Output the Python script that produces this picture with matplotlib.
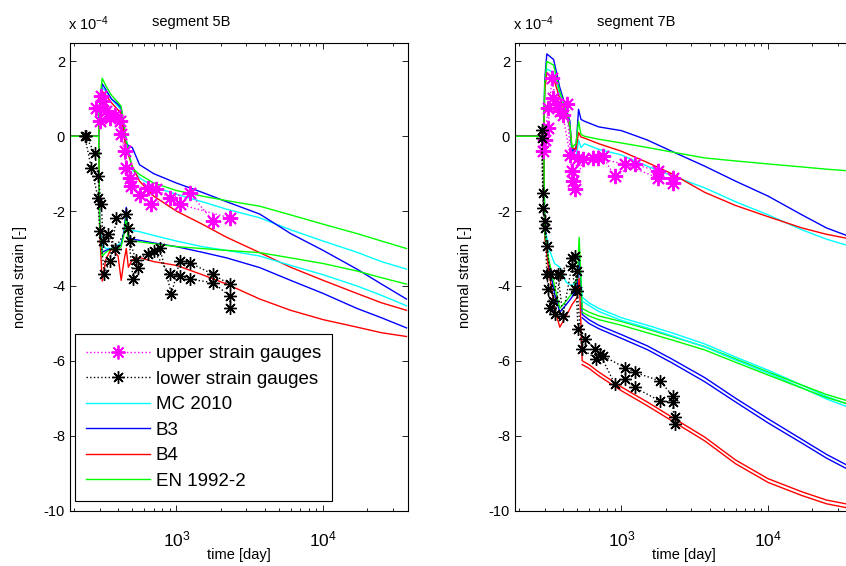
import numpy as np
import matplotlib.pyplot as plt
from matplotlib.lines import Line2D

plt.rcParams['font.family'] = ['Liberation Sans', 'DejaVu Sans']
plt.rcParams['font.size'] = 10.5
plt.rcParams['mathtext.fontset'] = 'custom'
plt.rcParams['mathtext.rm'] = 'Liberation Sans'
plt.rcParams['mathtext.it'] = 'Liberation Sans:italic'

# ---- segment 5B: model curves (strain in 1e-4) ----
L_T = [190, 295, 300, 312, 330, 360, 400, 420, 440, 455, 470, 500, 560, 700,
       1000, 1500, 2200, 3700, 6000, 10000, 17000, 25000, 37000]
L_MC_UP = [0, 0, 0.9, 1.3, 1.2, 1.0, 0.8, 0.7, 0.2, -0.1, -0.3, -0.9, -1.11, -1.35,
           -1.55, -1.75, -1.95, -2.18, -2.5, -2.8, -3.1, -3.35, -3.55]
L_B3_UP = [0, 0, 0.9, 1.4, 1.25, 1.0, 0.85, 0.75, 0.2, -0.18, -0.25, -0.3, -0.76, -1.0,
           -1.25, -1.5, -1.75, -2.08, -2.6, -3.05, -3.55, -3.95, -4.35]
L_B4_UP = [0, 0, 0.8, 1.2, 1.1, 0.9, 0.7, 0.6, 0.0, -0.4, -0.5, -0.8, -1.2, -1.6,
           -2.0, -2.35, -2.7, -3.11, -3.5, -3.85, -4.2, -4.45, -4.65]
L_EN_UP = [0, 0, 1.0, 1.55, 1.35, 1.1, 0.9, 0.8, 0.3, -0.1, -0.4, -0.85, -1.02, -1.25,
           -1.45, -1.6, -1.72, -1.87, -2.1, -2.35, -2.6, -2.8, -3.0]
L_MC_LO = [0, 0, -2.4, -2.9, -3.0, -3.0, -2.9, -2.85, -2.6, -2.3, -2.5, -2.52, -2.55, -2.65,
           -2.8, -2.95, -3.05, -3.2, -3.45, -3.7, -4.0, -4.25, -4.53]
L_B3_LO = [0, 0, -2.5, -3.1, -3.05, -3.0, -2.95, -2.9, -2.5, -1.9, -2.7, -2.75, -2.78, -2.85,
           -2.95, -3.1, -3.25, -3.51, -3.85, -4.2, -4.6, -4.85, -5.12]
L_B4_LO = [0, 0, -2.6, -3.87, -3.3, -3.0, -3.2, -3.85, -3.3, -3.0, -3.5, -3.3, -3.24, -3.35,
           -3.45, -3.7, -3.95, -4.35, -4.65, -4.9, -5.1, -5.25, -5.35]
L_EN_LO = [0, 0, -2.5, -3.2, -3.1, -3.0, -3.0, -2.95, -2.6, -2.1, -2.8, -2.8, -2.82, -2.87,
           -2.95, -3.0, -3.05, -3.11, -3.25, -3.4, -3.6, -3.78, -3.95]

# ---- segment 5B: measurements ----
L_UP1_T = [285, 316, 351, 410, 444, 480, 562, 675, 900, 1233, 1777]
L_UP1_V = [0.75, 0.93, 0.49, 0.4, -0.4, -1.11, -1.56, -1.82, -1.64, -1.51, -2.27]
L_UP2_T = [300, 308, 333, 379, 422, 456, 493, 640, 731, 1053, 2310]
L_UP2_V = [0.4, 1.07, 0.67, 0.58, 0.05, -0.85, -1.33, -1.38, -1.42, -1.82, -2.18]
L_LO1_T = [237, 263, 292, 300, 323, 351, 390, 456, 506, 547, 640, 769, 925, 1053, 1233, 1777, 2310]
L_LO1_V = [0, -0.85, -1.64, -2.53, -3.69, -3.33, -2.18, -2.09, -3.82, -3.51, -3.15, -2.98,
           -4.22, -3.33, -3.38, -3.69, -3.96]
L_LO2_T = [240, 277, 292, 308, 316, 340, 380, 468, 480, 530, 700, 900, 1053, 1233, 1777, 2300, 2330]
L_LO2_V = [0, -0.44, -1.07, -1.82, -2.8, -2.6, -3.0, -2.44, -2.8, -3.3, -3.07, -3.69, -3.73,
           -3.82, -3.91, -4.27, -4.58]

# ---- segment 7B: model curves ----
R_T_UP = [190, 295, 300, 310, 345, 380, 420, 445, 460, 490, 510, 530, 560, 700,
          1000, 1500, 2200, 3700, 6000, 10000, 17000, 25000, 37000]
R_MC_UP = [0, 0, 1.3, 1.8, 1.7, 1.1, 0.6, 0.2, -0.5, -0.6, -0.1, -0.3, -0.2, -0.35,
           -0.5, -0.8, -1.05, -1.38, -1.75, -2.1, -2.5, -2.75, -2.95]
R_B3_UP = [0, 0, 1.5, 2.2, 2.05, 1.3, 0.75, 0.4, -0.4, -0.3, 0.72, 0.45, 0.4, 0.25,
           0.15, -0.1, -0.4, -0.8, -1.2, -1.6, -2.1, -2.45, -2.7]
R_B4_UP = [0, 0, 1.2, 1.7, 1.55, 1.0, 0.6, 0.25, -0.3, -0.35, 0.1, -0.02, -0.05, -0.2,
           -0.4, -0.7, -1.0, -1.5, -1.85, -2.15, -2.45, -2.62, -2.75]
R_EN_UP = [0, 0, 1.4, 2.0, 1.9, 1.2, 0.7, 0.3, -0.3, -0.2, 0.4, 0.05, 0.0, -0.08,
           -0.18, -0.3, -0.42, -0.58, -0.66, -0.74, -0.82, -0.88, -0.93]

R_T_LO = [190, 295, 300, 320, 350, 380, 420, 460, 500, 515, 525, 540, 600, 700,
          1000, 1500, 2200, 3700, 6000, 10000, 17000, 25000, 37000]
R_MC_LO = [0, 0, -2.4, -3.0, -3.4, -3.5, -3.9, -4.0, -3.8, -3.3, -3.6, -4.3, -4.45, -4.6,
           -4.85, -5.05, -5.25, -5.55, -5.9, -6.25, -6.65, -6.95, -7.2]
R_B3_LO = [0, 0, -2.6, -3.4, -4.2, -4.7, -4.5, -4.3, -4.0, -3.2, -3.8, -4.76, -4.9, -5.05,
           -5.3, -5.6, -5.95, -6.45, -7.0, -7.55, -8.1, -8.5, -8.85]
R_B4_LO = [0, 0, -2.7, -3.6, -4.6, -5.1, -4.8, -4.5, -4.3, -3.8, -4.6, -6.0, -6.1, -6.3,
           -6.7, -7.1, -7.5, -8.04, -8.65, -9.15, -9.5, -9.72, -9.85]
R_EN_LO = [0, 0, -2.6, -3.3, -4.0, -4.6, -4.4, -4.2, -3.8, -2.7, -3.5, -4.6, -4.7, -4.8,
           -4.95, -5.15, -5.35, -5.62, -5.95, -6.3, -6.65, -6.9, -7.1]

# second gauge of the lower pairs (segment 7B)
R_T_PAIR = [540, 600, 700, 1000, 1500, 2200, 3700, 6000, 10000, 17000, 25000, 37000]
R_MC_LO2 = [-4.4, -4.52, -4.68, -4.92, -5.12, -5.33, -5.63, -5.98, -6.33, -6.72, -7.02, -7.27]
R_B3_LO2 = [-4.85, -5.0, -5.14, -5.4, -5.7, -6.05, -6.56, -7.1, -7.66, -8.2, -8.6, -8.95]
R_B4_LO2 = [-6.1, -6.2, -6.4, -6.8, -7.2, -7.6, -8.14, -8.75, -9.25, -9.6, -9.82, -9.95]
R_EN_LO2 = [-4.7, -4.8, -4.9, -5.05, -5.25, -5.44, -5.71, -6.04, -6.38, -6.73, -6.98, -7.18]

# ---- segment 7B: measurements ----
R_UP1_T = [292, 316, 335, 362, 399, 445, 467, 505, 639, 746, 898, 1231, 1763, 2230]
R_UP1_V = [-0.4, 0.22, 1.55, 0.85, 0.58, -0.49, -1.2, -0.58, -0.58, -0.53, -1.07, -0.75, -0.93, -1.24]
R_UP2_T = [300, 316, 341, 381, 423, 458, 482, 546, 691, 1053, 1763, 2230]
R_UP2_V = [-0.1, 0.75, 1.02, 0.67, 0.85, -0.93, -1.41, -0.62, -0.58, -0.75, -1.11, -1.11]
R_LO1_T = [286, 292, 302, 310, 326, 352, 381, 458, 482, 505, 564, 659, 746, 1053, 1231, 1820, 2230, 2300]
R_LO1_V = [0.18, -1.51, -2.27, -2.93, -3.69, -4.75, -3.69, -3.24, -3.2, -5.15, -5.41, -5.68,
           -5.87, -6.18, -6.31, -6.53, -6.93, -7.51]
R_LO2_T = [286, 292, 302, 310, 316, 326, 341, 369, 399, 458, 482, 495, 500, 535, 676, 713,
           898, 1053, 1231, 1820, 2230, 2300]
R_LO2_V = [-0.04, -1.91, -2.44, -3.69, -4.08, -4.58, -4.4, -3.69, -4.8, -3.47, -4.08, -3.6,
           -4.13, -5.68, -5.95, -5.81, -6.61, -6.48, -6.71, -7.07, -7.11, -7.68]

COL = {'MC': '#00FFFF', 'B3': '#0000FF', 'B4': '#FF0000', 'EN': '#00FF00'}
STAR = (8, 2, 0)


def style_axes(ax, title):
    ax.set_xscale('log')
    ax.set_xlim(188, 37600)
    ax.set_ylim(-10, 2.5)
    ax.set_yticks(np.arange(-10, 3, 2))
    ax.set_yticklabels([str(v) for v in range(-10, 3, 2)])
    ax.tick_params(which='both', direction='in', top=True, right=True)
    ax.tick_params(which='major', length=4, width=0.6)
    ax.tick_params(which='minor', length=2.5, width=0.6)
    ax.tick_params(axis='x', which='major', labelsize=12.5, pad=14)
    for s in ax.spines.values():
        s.set_linewidth(0.8)
    ax.set_xlabel('time [day]', labelpad=-1)
    ax.set_ylabel('normal strain [-]', labelpad=12)
    ax.text(0.36, 1.045, title, transform=ax.transAxes, ha='center', va='center')
    ax.text(-0.005, 1.04, r'x 10$^{-4}$', transform=ax.transAxes, ha='left', va='center')


fig = plt.figure(figsize=(8.46, 5.66), dpi=100)
ax1 = fig.add_axes([0.0827, 0.098, 0.399, 0.8266])
ax2 = fig.add_axes([0.6087, 0.098, 0.399, 0.8266])

# left panel
for vals, c in [(L_MC_UP, 'MC'), (L_B3_UP, 'B3'), (L_B4_UP, 'B4'), (L_EN_UP, 'EN'),
                (L_MC_LO, 'MC'), (L_B3_LO, 'B3'), (L_B4_LO, 'B4'), (L_EN_LO, 'EN')]:
    ax1.plot(L_T, vals, color=COL[c], lw=1)
for t, v in [(L_UP1_T, L_UP1_V), (L_UP2_T, L_UP2_V)]:
    ax1.plot(t, v, ':', color='#FF00FF', lw=1, marker=STAR, ms=11, mew=1.4)
for t, v in [(L_LO1_T, L_LO1_V), (L_LO2_T, L_LO2_V)]:
    ax1.plot(t, v, ':', color='black', lw=1, marker=STAR, ms=9, mew=1)
style_axes(ax1, 'segment 5B')

# right panel
for vals, c in [(R_MC_UP, 'MC'), (R_B3_UP, 'B3'), (R_B4_UP, 'B4'), (R_EN_UP, 'EN')]:
    ax2.plot(R_T_UP, vals, color=COL[c], lw=1)
for vals, c in [(R_MC_LO, 'MC'), (R_B3_LO, 'B3'), (R_B4_LO, 'B4'), (R_EN_LO, 'EN')]:
    ax2.plot(R_T_LO, vals, color=COL[c], lw=1)
for vals, c in [(R_MC_LO2, 'MC'), (R_B3_LO2, 'B3'), (R_B4_LO2, 'B4'), (R_EN_LO2, 'EN')]:
    ax2.plot(R_T_PAIR, vals, color=COL[c], lw=1)
for t, v in [(R_UP1_T, R_UP1_V), (R_UP2_T, R_UP2_V)]:
    ax2.plot(t, v, ':', color='#FF00FF', lw=1, marker=STAR, ms=11, mew=1.4)
for t, v in [(R_LO1_T, R_LO1_V), (R_LO2_T, R_LO2_V)]:
    ax2.plot(t, v, ':', color='black', lw=1, marker=STAR, ms=9, mew=1)
style_axes(ax2, 'segment 7B')
ax2.spines['right'].set_visible(False)

handles = [
    Line2D([], [], ls=':', color='#FF00FF', lw=1, marker=STAR, ms=10, mew=1.3),
    Line2D([], [], ls=':', color='black', lw=1, marker=STAR, ms=9, mew=1),
    Line2D([], [], color=COL['MC'], lw=1),
    Line2D([], [], color=COL['B3'], lw=1),
    Line2D([], [], color=COL['B4'], lw=1),
    Line2D([], [], color=COL['EN'], lw=1),
]
labels = ['upper strain gauges', 'lower strain gauges', 'MC 2010', 'B3', 'B4', 'EN 1992-2']
leg = ax1.legend(handles, labels, loc='lower left', bbox_to_anchor=(0.015, 0.02),
                 numpoints=1, fontsize=13.5, handlelength=3.4, handletextpad=0.3,
                 labelspacing=0.45, borderpad=0.6, fancybox=False, framealpha=1,
                 edgecolor='black', borderaxespad=0)
leg.get_frame().set_linewidth(0.8)

fig.savefig('out.png', dpi=100)
